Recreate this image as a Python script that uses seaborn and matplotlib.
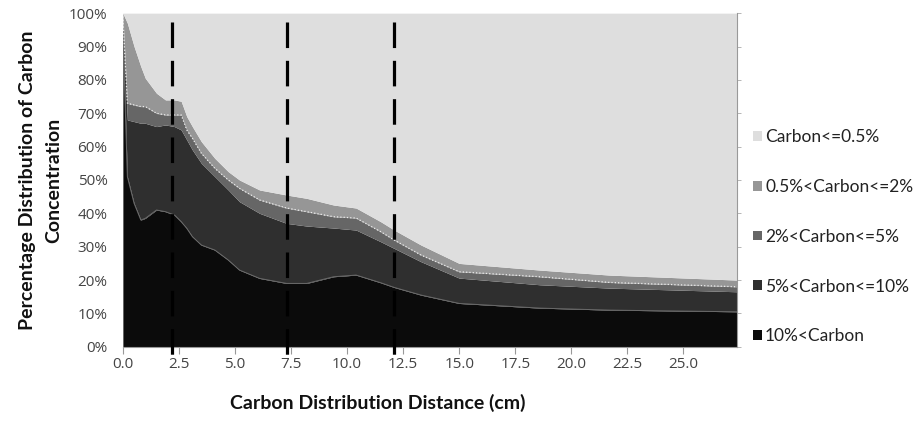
import numpy as np
import pandas as pd
import matplotlib
matplotlib.use('Agg')
import matplotlib.pyplot as plt
from matplotlib.patches import Patch
import seaborn as sns

# ─── Data ─────────────────────────────────────────────────────────────────────

distance = [0, 0.2, 0.5, 0.8, 1.0, 1.5, 1.9, 2.3, 2.6, 2.85, 3.1, 3.5, 4.1, 4.7,
            5.2, 6.1, 7.3, 8.2, 9.4, 10.4, 11.5, 12.1, 13.3, 15.0, 18.6, 21.7, 27.4]

# percentage share of each carbon band at each distance
c_over10 = [95, 51, 43, 38, 38.5, 41, 40.5, 39.5, 37.5, 35.5, 33, 30.5, 29, 26,
            23, 20.5, 19, 19, 21, 21.5, 19.2, 17.8, 15.5, 13, 11.6, 11, 10.5]
c_5to10 = [2, 17, 24.5, 29, 28.5, 25, 26, 26.5, 27.5, 26.5, 26, 24.5, 22, 21,
           20.5, 19.5, 18, 17.2, 14.6, 13.5, 12.3, 11.7, 10, 7.6, 7, 6.6, 6]
c_2to5 = [2, 5, 5, 5, 5, 4, 3, 3.5, 4.5, 3, 3.5, 3, 2.5, 3,
          4, 4, 4.6, 4.3, 3.4, 3.6, 3, 2.5, 2, 1.9, 2.4, 1.7, 1.5]
c_05to2 = [1, 24, 17.5, 12, 8.5, 6, 4.5, 4.5, 4.1, 4, 3.5, 3.5, 3, 2.5,
           2.5, 3, 3.9, 4, 3.5, 3, 3, 3, 3, 2.5, 2, 2.2, 2]
c_le05 = [0, 3, 10, 16, 19.5, 24, 26, 26, 26.4, 31, 34, 38.5, 43.5, 47.5,
          50, 53, 54.5, 55.5, 57.5, 58.4, 62.5, 65, 69.5, 75, 77, 78.5, 80]

band_labels = ["10%<Carbon", "5%<Carbon<=10%", "2%<Carbon<=5%",
               "0.5%<Carbon<=2%", "Carbon<=0.5%"]
band_colors = ["#0b0b0b", "#2f2f2f", "#666666", "#969696", "#dedede"]

marker_distances = [2.2, 7.3, 12.1]
x_ticks = [0, 2.5, 5, 7.5, 10, 12.5, 15, 17.5, 20, 22.5, 25]

# ─── Plot ─────────────────────────────────────────────────────────────────────

sns.set_theme(style="white")
plt.rcParams['font.family'] = ['Open Sans', 'DejaVu Sans']

df = pd.DataFrame({"distance": distance, band_labels[0]: c_over10,
                   band_labels[1]: c_5to10, band_labels[2]: c_2to5,
                   band_labels[3]: c_05to2, band_labels[4]: c_le05})
stack = df[band_labels].cumsum(axis=1)

fig, ax = plt.subplots(figsize=(9.17, 4.24), dpi=100)
fig.subplots_adjust(left=0.134, right=0.804, bottom=0.182, top=0.969)

lower = np.zeros(len(df))
for lab, col in zip(band_labels, band_colors):
    upper = stack[lab].values
    ax.fill_between(df["distance"], lower, upper, color=col, linewidth=0)
    lower = upper

# faint boundary lines like in the original export
sns.lineplot(x=df["distance"], y=stack[band_labels[0]], ax=ax,
             color="#6a6a6a", linewidth=0.7)
sns.lineplot(x=df["distance"], y=stack[band_labels[2]], ax=ax,
             color="#ececec", linewidth=0.9, linestyle=":")

for xd in marker_distances:
    ax.plot([xd, xd], [97.3, -4.5], color="black", linewidth=2.3,
            dashes=(8, 4), clip_on=False, zorder=5)

ax.set_xlim(0, 27.4)
ax.set_ylim(0, 100)
ax.set_xticks(x_ticks)
ax.set_xticklabels([f"{t:.1f}" for t in x_ticks])
ax.set_yticks(range(0, 101, 10))
ax.set_yticklabels([f"{t}%" for t in range(0, 101, 10)])
ax.tick_params(axis="x", bottom=True, direction="out", length=5, width=0.8,
               color="#999999", labelsize=11, labelcolor="#444444", pad=2)
ax.tick_params(axis="y", left=False, right=True, direction="out", length=3,
               width=0.6, color="#aaaaaa", labelsize=11, labelcolor="#444444",
               pad=8)

for side in ["top", "left"]:
    ax.spines[side].set_visible(False)
for side in ["bottom", "right"]:
    ax.spines[side].set_color("#999999")
    ax.spines[side].set_linewidth(0.8)

ax.set_xlabel("Carbon Distribution Distance (cm)", fontsize=14, family="Lato",
              fontweight="bold", color="#111111")
ax.xaxis.set_label_coords((378 - 123) / (737 - 123), -0.14)
ax.set_ylabel("Percentage Distribution of Carbon\nConcentration", fontsize=14,
              family="Lato", fontweight="bold", color="#111111", linespacing=1.6)
ax.yaxis.set_label_coords((62 - 123) / (737 - 123), 0.5)

handles = [Patch(facecolor=c, edgecolor="none")
           for c in band_colors[::-1]]
ax.legend(handles, band_labels[::-1], loc="center left",
          bbox_to_anchor=(1.0, 0.33), frameon=False,
          prop={"family": "Lato", "size": 12.5},
          labelspacing=1.95, handlelength=0.5, handleheight=0.5,
          handletextpad=0.2, labelcolor="#222222")

plt.savefig("out.png", dpi=100)
